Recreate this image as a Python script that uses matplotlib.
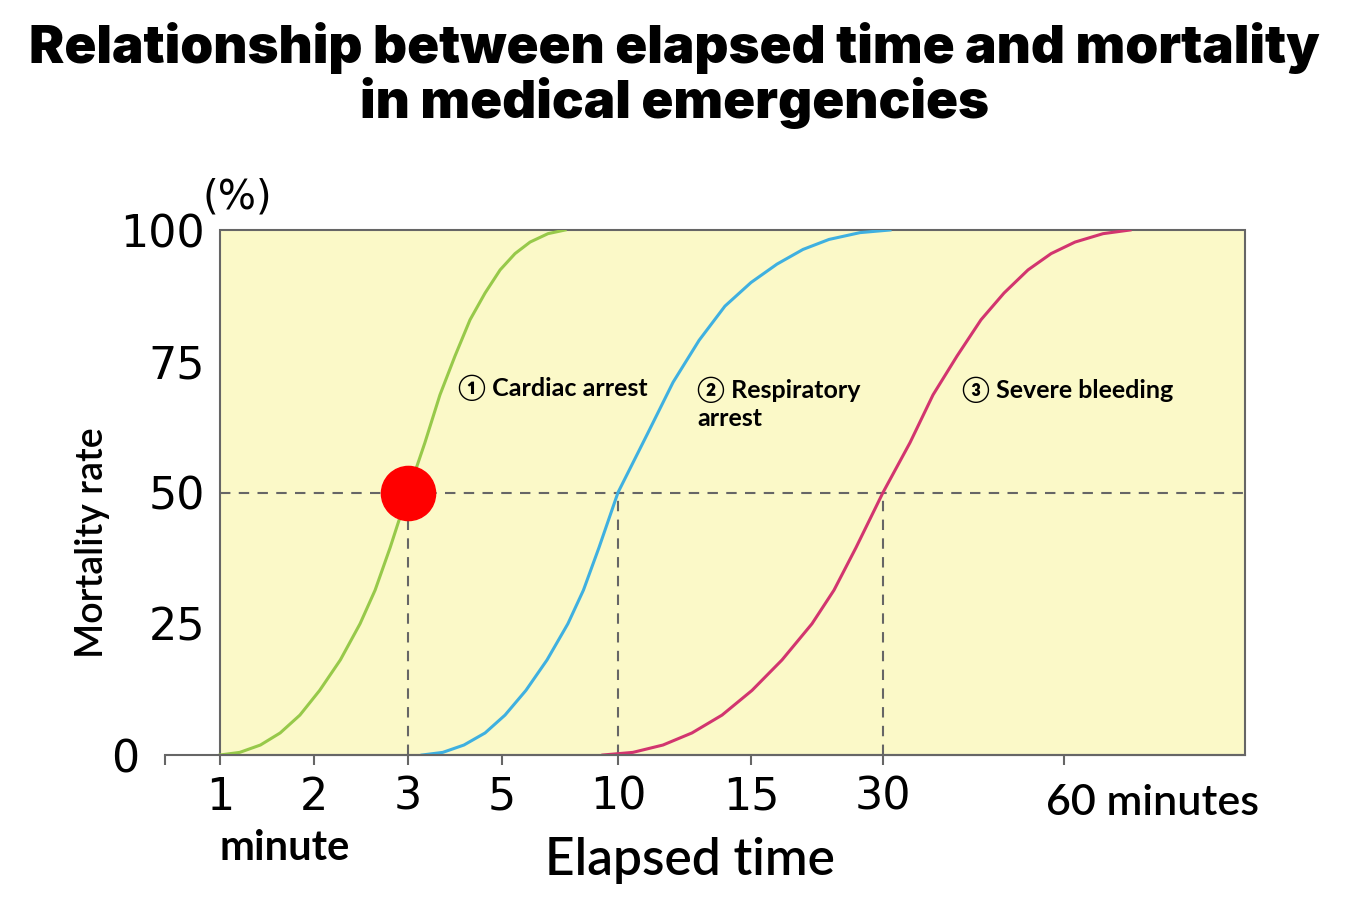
import numpy as np
import matplotlib.pyplot as plt

# minutes on the axis and where each one sits (in tick steps)
minute_knots = [0, 1, 2, 3, 5, 10, 15, 30, 60, 90]
position_knots = [-0.585, 0, 1, 2, 3, 4.234, 5.649, 7.053, 8.979, 10.904]
tick_minutes = [0, 1, 2, 3, 5, 10, 15, 30, 60]
tick_labels = ['', '1', '2', '3', '5', '10', '15', '30', '']

# curves: minutes -> mortality (%)
cardiac_min = [1.0, 1.21, 1.43, 1.64, 1.85, 2.06, 2.28, 2.49, 2.65, 2.81,
               3.0, 3.36, 3.68, 4.0, 4.32, 4.64, 4.96, 5.56, 6.21, 6.98, 7.72]
cardiac_pct = [0, 0.5, 1.9, 4.2, 7.6, 12.3, 18.1, 25, 31.4, 39.5,
               50, 59.5, 68.6, 76, 82.9, 88, 92.4, 95.5, 97.7, 99.3, 100]

resp_min = [3.3, 3.74, 4.19, 4.64, 5.13, 6.03, 6.94, 7.84, 8.51, 9.18,
            10, 11.09, 12.07, 13.05, 14.02, 15, 17.95, 20.91, 23.86, 27.39, 31.16]
resp_pct = [0, 0.5, 1.9, 4.2, 7.6, 12.3, 18.1, 25, 31.4, 39.5,
            50, 61, 71, 79, 85.5, 90, 93.5, 96.3, 98.2, 99.5, 100]

bleed_min = [9.35, 10.56, 11.69, 12.78, 13.91, 15.11, 18.52, 21.93, 24.43, 26.93,
             30, 34.48, 38.29, 42.27, 46.24, 50.06, 54.03, 57.85, 61.82, 66.46, 70.94]
bleed_pct = [0, 0.5, 1.9, 4.2, 7.6, 12.3, 18.1, 25, 31.4, 39.5,
             50, 59.5, 68.6, 76, 82.9, 88, 92.4, 95.5, 97.7, 99.3, 100]

half_times = [3, 10, 30]

grey = '#666666'
num_font = ['DejaVu Sans']
lab_font = ['Lato', 'Noto Sans CJK JP', 'DejaVu Sans']


def fwd(m):
    return np.interp(m, minute_knots, position_knots)


def inv(p):
    return np.interp(p, position_knots, minute_knots)


fig = plt.figure(figsize=(13.6, 9.18), dpi=100)
ax = fig.add_axes([165 / 1360, 1 - 755 / 918, 1080 / 1360, 525 / 918])
ax.set_xscale('function', functions=(fwd, inv))
ax.set_xlim(0, 90)
ax.set_ylim(0, 100)
ax.set_facecolor('none')

for s in ['left', 'top', 'right']:
    ax.spines[s].set_visible(False)
ax.spines['bottom'].set_color(grey)
ax.spines['bottom'].set_linewidth(1.5)

ax.axvspan(1, 90, facecolor='#fbf9c8', edgecolor=grey, lw=1.5, zorder=0,
           clip_on=False)

ax.hlines(50, 1, 90, colors=grey, linestyles=(0, (5, 4)), lw=1.5, zorder=1)
ax.vlines(half_times, 0, 50, colors=grey, linestyles=(0, (5, 4)), lw=1.5,
          zorder=1)

ax.plot(cardiac_min, cardiac_pct, color='#97c94a', lw=2.2, zorder=2)
ax.plot(resp_min, resp_pct, color='#3fb0e0', lw=2.2, zorder=2)
ax.plot(bleed_min, bleed_pct, color='#d2356f', lw=2.2, zorder=2)

ax.plot(3, 50, 'o', ms=39, color='#ff0000', zorder=5)

ax.set_xticks(tick_minutes)
ax.set_xticklabels(tick_labels, fontfamily=num_font)
ax.tick_params(axis='x', length=7, width=1.5, color=grey, pad=8,
               labelsize=32)
ax.set_yticks([25, 50, 75, 100])
ax.set_yticklabels(['25', '50', '75', '100'], fontfamily=num_font)
ax.tick_params(axis='y', length=0, pad=-29, labelsize=32)

# curve labels
ax.text(4.06, 70, '① Cardiac arrest', fontsize=18, fontweight='bold',
        family=lab_font, va='center')
ax.text(12.97, 67, '② Respiratory\narrest', fontsize=18, fontweight='bold',
        family=lab_font, va='center', linespacing=1.2)
ax.text(43.1, 69.5, '③ Severe bleeding', fontsize=18, fontweight='bold',
        family=lab_font, va='center')

fig.text(125 / 1360, 1 - 760 / 918, '0', fontsize=32, family=num_font,
         ha='center', va='center')
fig.text(237 / 1360, 1 - 198 / 918, '(%)', fontsize=29, family=num_font,
         ha='center', va='center')
fig.text(92 / 1360, 1 - 543 / 918, 'Mortality rate', rotation=90,
         fontsize=27, fontweight='semibold', family=lab_font,
         ha='center', va='center')
fig.text(285 / 1360, 1 - 848 / 918, 'minute', fontsize=30,
         fontweight='bold', family=lab_font, ha='center', va='center')
fig.text(690 / 1360, 1 - 860 / 918, 'Elapsed time', fontsize=37,
         fontweight='semibold', family=lab_font, ha='center', va='center')
fig.text(1153 / 1360, 1 - 803 / 918, '60 minutes', fontsize=31,
         fontweight='semibold', family=lab_font, ha='center', va='center')

fig.text(0.496, 1 - 48 / 918, 'Relationship between elapsed time and mortality',
         fontsize=38, fontweight='black', family=['Inter', 'DejaVu Sans'],
         ha='center', va='center')
fig.text(0.496, 1 - 103 / 918, 'in medical emergencies',
         fontsize=38, fontweight='black', family=['Inter', 'DejaVu Sans'],
         ha='center', va='center')

fig.savefig('out.png', dpi=100, facecolor='white')
